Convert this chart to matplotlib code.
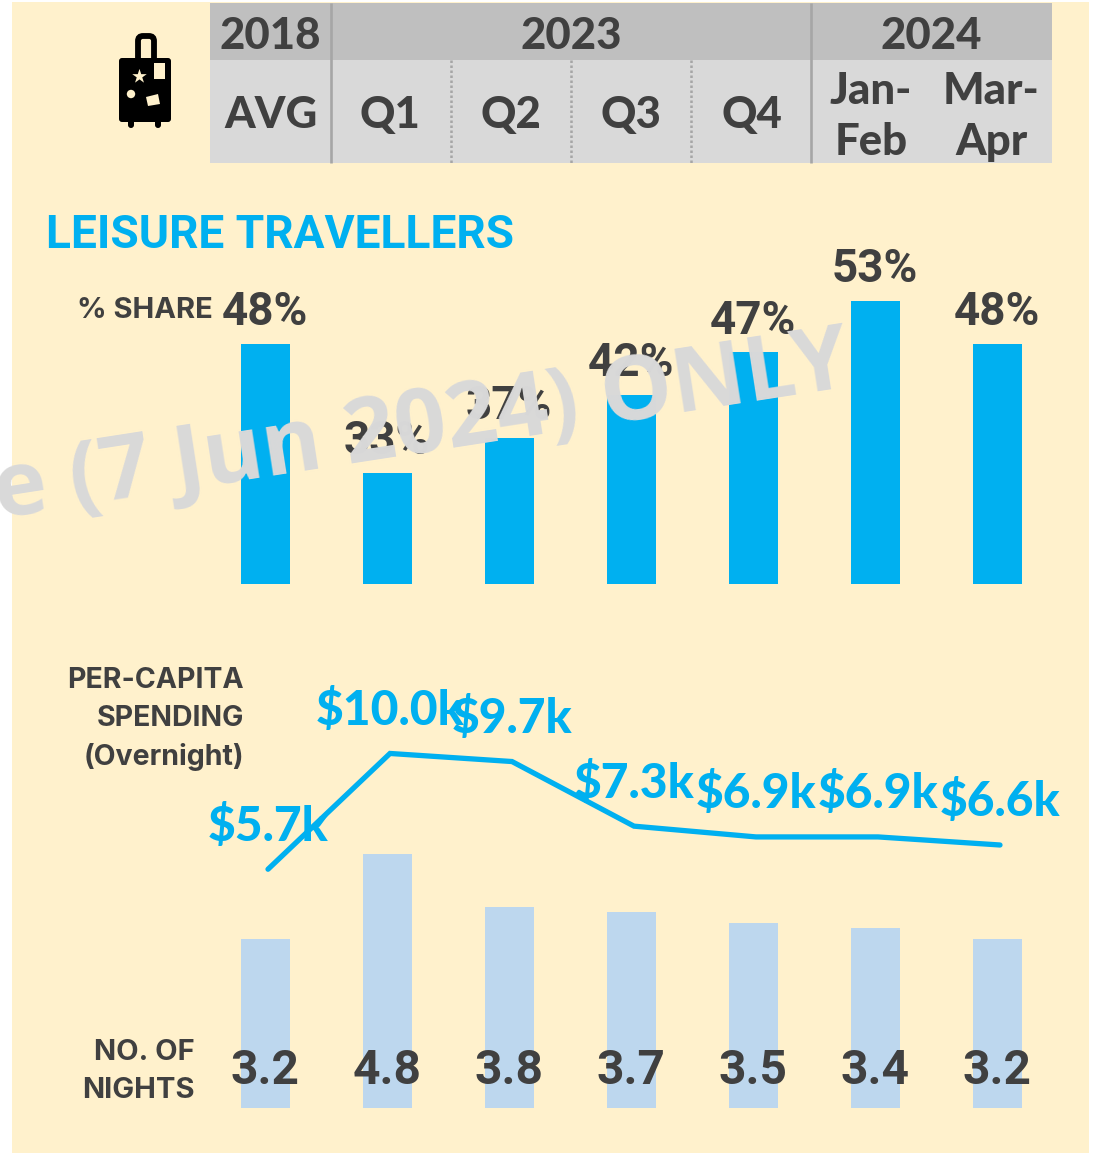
import matplotlib
matplotlib.use("Agg")
import matplotlib.pyplot as plt
from matplotlib.patches import Rectangle, FancyBboxPatch, Circle, Polygon

W, H = 1094, 1153

periods = ["2018 AVG", "Q1 2023", "Q2 2023", "Q3 2023", "Q4 2023", "Jan-Feb 2024", "Mar-Apr 2024"]
share = [48, 33, 37, 42, 47, 53, 48]
spending = [5.7, 10.0, 9.7, 7.3, 6.9, 6.9, 6.6]
nights = [3.2, 4.8, 3.8, 3.7, 3.5, 3.4, 3.2]

DARK = "#404040"
BLUE = "#00B0F0"
LIGHT = "#BDD7EE"
CREAM = "#FFF1CC"
HEAD = "Lato"
NUM = "Roboto"
SMALL = "Inter"

fig = plt.figure(figsize=(W / 100, H / 100), dpi=100, facecolor="white")


def axes_px(x0, y0, x1, y1, z=1):
    ax = fig.add_axes([x0 / W, 1 - y1 / H, (x1 - x0) / W, (y1 - y0) / H], zorder=z)
    ax.patch.set_alpha(0)
    ax.axis("off")
    return ax


bg = axes_px(0, 0, W, H, 0)
bg.set_xlim(0, W)
bg.set_ylim(H, 0)
bg.add_patch(Rectangle((12, 2), 1077, 1151, fc=CREAM, ec="none"))
bg.add_patch(Rectangle((210, 3), 842, 57, fc="#BFBFBF", ec="none"))
bg.add_patch(Rectangle((210, 60), 842, 103, fc="#D9D9D9", ec="none"))
for x in (331, 811):
    bg.plot([x, x], [3, 163], color="#A6A6A6", lw=1.9, solid_capstyle="butt")
for x in (451, 571, 691):
    bg.plot([x, x], [60, 163], color="#A6A6A6", lw=1.8, ls=(0, (1, 1)))


def head(x, y, s, size=31.5):
    bg.text(x, y, s, ha="center", va="center", family=HEAD, weight=900,
            fontsize=size, color=DARK)


head(270, 36, "2018")
head(571, 36, "2023")
head(931, 36, "2024")
for x, s in [(271, "AVG"), (390, "Q1"), (511, "Q2"), (631, "Q3"), (752, "Q4")]:
    head(x, 115, s)
head(871, 91, "Jan-")
head(871, 142, "Feb")
head(991, 91, "Mar-")
head(992, 142, "Apr")

# luggage icon
bg.add_patch(FancyBboxPatch((138, 36), 16, 30, boxstyle="round,pad=0,rounding_size=5",
                            fc="none", ec="black", lw=4.2))
bg.add_patch(FancyBboxPatch((119, 58), 52, 64, boxstyle="round,pad=0,rounding_size=3",
                            fc="black", ec="none"))
for x in (131, 158):
    bg.add_patch(FancyBboxPatch((x - 3, 118), 6, 10, boxstyle="round,pad=0,rounding_size=3",
                                fc="black", ec="none"))
bg.add_patch(Rectangle((154, 63), 11, 16, fc=CREAM, ec="none"))
bg.add_patch(Circle((131, 94), 4.2, fc=CREAM, ec="none"))
bg.add_patch(Polygon([(146, 97), (158, 94), (160, 104), (148, 106)], fc=CREAM, ec="none"))
bg.scatter([139], [76], marker="*", s=120, color=CREAM, linewidths=0, zorder=3)

bg.text(46, 235, "LEISURE TRAVELLERS", family=NUM, weight="bold", fontsize=33.2,
        color=BLUE, ha="left", va="center")
bg.text(213, 311, "% SHARE", family=SMALL, weight="bold", fontsize=21, color=DARK,
        ha="right", va="center")
for y, s in [(680, "PER-CAPITA"), (718, "SPENDING"), (757, "(Overnight)")]:
    bg.text(244, y, s, family=SMALL, weight="bold", fontsize=20.5, color=DARK, ha="right", va="center")
for y, s in [(1052, "NO. OF"), (1090, "NIGHTS")]:
    bg.text(195, y, s, family=SMALL, weight="bold", fontsize=21, color=DARK, ha="right", va="center")

xs = list(range(len(periods)))

# share bars
ax1 = axes_px(204.2, 241, 1058.2, 584, 2)
ax1.set_xlim(-0.5, 6.5)
ax1.set_ylim(20, 60)
ax1.bar(xs, share, width=0.402, color=BLUE, bottom=0)
for x, v in zip(xs, share):
    ax1.annotate(f"{v}%", (x, v), xytext=(0, 23), textcoords="offset points", ha="center",
                 va="center", family=NUM, weight="bold", fontsize=33, color=DARK)

# nights bars
ax2 = axes_px(204.2, 843.5, 1058.2, 1108, 2)
ax2.set_xlim(-0.5, 6.5)
ax2.set_ylim(0, 5)
ax2.bar(xs, nights, width=0.402, color=LIGHT)
for x, v in zip(xs, nights):
    ax2.annotate(f"{v:.1f}", (x, 0), xytext=(0, 26.5), textcoords="offset points", ha="center",
                 va="center", family=NUM, weight="bold", fontsize=34.5, color=DARK)

# spending line
ax3 = axes_px(207, 740, 1061, 880, 3)
ax3.set_xlim(-0.5, 6.5)
ax3.set_ylim(5.3, 10.5)
ax3.plot(xs, spending, color=BLUE, lw=3.8, solid_capstyle="round", solid_joinstyle="miter", clip_on=False)
for x, v in zip(xs, spending):
    ax3.annotate(f"${v:.1f}k", (x, v), xytext=(0, 31), textcoords="offset points", ha="center",
                 va="center", family=HEAD, weight=900, fontsize=34.5, color=BLUE)

# watermark
top = axes_px(0, 0, W, H, 5)
top.set_xlim(0, W)
top.set_ylim(H, 0)
top.text(422, 429, "e (7 Jun 2024) ONLY", family="Open Sans", weight="bold", fontsize=65,
         color="#D9D9D9", rotation=8.8, rotation_mode="anchor", ha="center", va="center")

fig.savefig("out.png", dpi=100, facecolor="white")
